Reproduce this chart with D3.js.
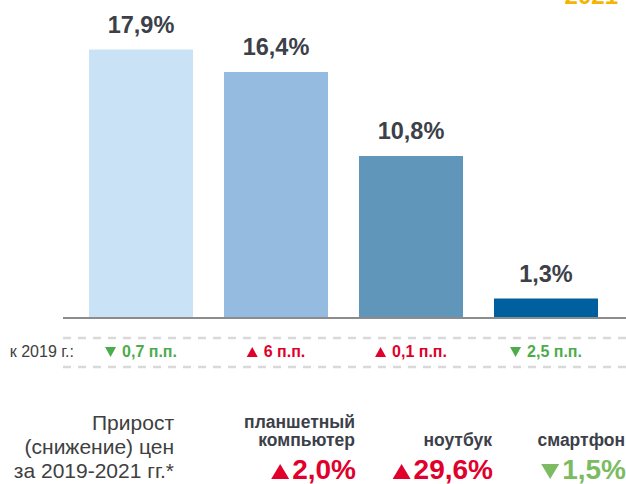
<!DOCTYPE html>
<html>
<head>
<meta charset="utf-8">
<script src="https://cdn.jsdelivr.net/npm/d3@7"></script>
<style>
  body { margin: 0; background: #fff; }
  svg { display: block; font-family: "Liberation Sans", Arial, sans-serif; }
</style>
</head>
<body>
<div id="chart"></div>
<script>
// bar values, % growth
const values = [17.9, 16.4, 10.8, 1.3];
const barColors = ["#c9e2f6", "#96bbe0", "#6096b9", "#005f9e"];
// change vs 2019, percentage points
const changes = [-0.7, 6, 0.1, -2.5];
const changeLabels = ["0,7 п.п.", "6 п.п.", "0,1 п.п.", "2,5 п.п."];
// price growth by product, 2019-2021
const products = [["планшетный", "компьютер"], ["ноутбук"], ["смартфон"]];
const productChanges = [2.0, 29.6, -1.5];
const productLabels = ["2,0%", "29,6%", "1,5%"];

const width = 626, height = 484;
const red = "#e0002b", green = "#4cac4c", lightGreen = "#7cbb62", dark = "#3c4049";

const svg = d3.select("#chart").append("svg")
  .attr("width", width)
  .attr("height", height);

const x = d3.scaleBand()
  .domain(d3.range(values.length))
  .range([73.5, 613.5])
  .paddingInner(0.2296)
  .paddingOuter(0.1148);

const y = d3.scaleLinear().domain([0, 20]).range([318, 18]);

// triangle up / down, w wide, h tall, bottom-left corner at (x0, yb)
function tri(g, x0, yb, w, h, up, color) {
  const pts = up
    ? [[x0, yb], [x0 + w, yb], [x0 + w / 2, yb - h]]
    : [[x0, yb - h], [x0 + w, yb - h], [x0 + w / 2, yb]];
  g.append("path").attr("d", d3.line()(pts) + "Z").attr("fill", color);
}

// year label, cut at top
svg.append("text")
  .attr("x", 618).attr("y", 4)
  .attr("text-anchor", "end")
  .attr("font-size", 24).attr("font-weight", "bold")
  .attr("fill", "#f5b400")
  .text("2021");

// bars
svg.selectAll("rect.bar")
  .data(values)
  .join("rect")
    .attr("class", "bar")
    .attr("x", (d, i) => x(i))
    .attr("y", d => y(d))
    .attr("width", x.bandwidth())
    .attr("height", d => y(0) - y(d))
    .attr("fill", (d, i) => barColors[i]);

// value labels
svg.selectAll("text.val")
  .data(values)
  .join("text")
    .attr("class", "val")
    .attr("x", (d, i) => x(i) + x.bandwidth() / 2)
    .attr("y", d => y(d) - 17)
    .attr("text-anchor", "middle")
    .attr("font-size", 23.5).attr("font-weight", "bold")
    .attr("fill", dark)
    .text(d => d3.format(".1f")(d).replace(".", ",") + "%");

// baseline
svg.append("line")
  .attr("x1", 63).attr("x2", width)
  .attr("y1", y(0)).attr("y2", y(0))
  .attr("stroke", "#8c8c8c").attr("stroke-width", 2);

// dashed rows
[338, 367].forEach(yy => {
  svg.append("line")
    .attr("x1", 63).attr("x2", width)
    .attr("y1", yy).attr("y2", yy)
    .attr("stroke", "#d9d9d9").attr("stroke-width", 2.5)
    .attr("stroke-dasharray", "8,7");
});

svg.append("text")
  .attr("x", 74).attr("y", 357)
  .attr("text-anchor", "end")
  .attr("font-size", 16)
  .attr("fill", "#404040")
  .text("к 2019 г.:");

// change row: triangle + label, centred on each bar
changes.forEach((d, i) => {
  const g = svg.append("g");
  const color = d < 0 ? green : red;
  const t = g.append("text")
    .attr("y", 357)
    .attr("font-size", 16).attr("font-weight", "bold")
    .attr("fill", color)
    .text(changeLabels[i]);
  const tw = t.node().getComputedTextLength();
  const total = 11 + 6 + tw;
  const x0 = x(i) + x.bandwidth() / 2 - total / 2;
  tri(g, x0, 357, 11, 10, d >= 0, color);
  t.attr("x", x0 + 17);
});

// bottom block
const note = ["Прирост", "(снижение) цен", "за 2019-2021 гг.*"];
svg.selectAll("text.note")
  .data(note)
  .join("text")
    .attr("class", "note")
    .attr("x", 174)
    .attr("y", (d, i) => 430 + i * 24)
    .attr("text-anchor", "end")
    .attr("font-size", 21)
    .attr("fill", "#404040")
    .text(d => d);

const prodRight = [355, 492, 625];
products.forEach((lines, i) => {
  lines.slice().reverse().forEach((t, k) => {
    svg.append("text")
      .attr("x", prodRight[i])
      .attr("y", 446 - k * 18)
      .attr("text-anchor", "end")
      .attr("font-size", 17.5).attr("font-weight", "bold")
      .attr("fill", dark)
      .text(t);
  });
  const v = productChanges[i];
  const color = v < 0 ? lightGreen : red;
  const g = svg.append("g");
  const t = g.append("text")
    .attr("x", prodRight[i] + 1)
    .attr("y", 479)
    .attr("text-anchor", "end")
    .attr("font-size", 28).attr("font-weight", "bold")
    .attr("fill", color)
    .text(productLabels[i]);
  const tw = t.node().getComputedTextLength();
  tri(g, prodRight[i] + 1 - tw - 21, 479, 18, 15, v >= 0, color);
});
</script>
</body>
</html>
